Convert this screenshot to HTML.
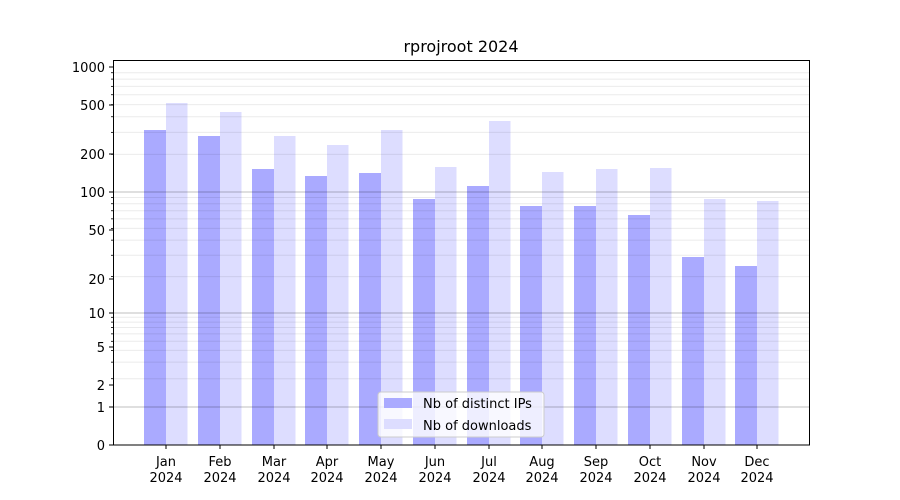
<!DOCTYPE html>
<html><head><meta charset="utf-8"><style>body{margin:0;background:#fff}svg{display:block}text{font-family:"DejaVu Sans","Liberation Sans",sans-serif;font-size:13px;fill:#000}</style></head>
<body>
<svg width="900" height="500" xmlns="http://www.w3.org/2000/svg">
<rect width="900" height="500" fill="#fff"/>
<g id="bars"></g>
<g id="grid"></g>
<rect x="113.5" y="60.5" width="696" height="384.5" fill="none" stroke="#000" stroke-width="1"/>
<g id="ticks"></g>
<text x="461" y="52" text-anchor="middle" style="font-size:16px">rprojroot 2024</text>
<g>
<rect x="378" y="392" width="166" height="45" rx="3" fill="#fff" fill-opacity="0.8" stroke="#ccc"/>
<rect x="384" y="398" width="28" height="10" fill="#aaaaff"/>
<text x="423" y="408">Nb of distinct IPs</text>
<rect x="384" y="419" width="28" height="10" fill="#ddddff"/>
<text x="423" y="430">Nb of downloads</text>
</g>
</svg>
<script>
const ns="http://www.w3.org/2000/svg";
function el(p,t,a,txt){const e=document.createElementNS(ns,t);for(const k in a)e.setAttribute(k,a[k]);if(txt!=null)e.textContent=txt;document.querySelector(p).appendChild(e);return e;}
const dec=[[1,407,313],[10,313,192],[100,192,67]];
function Y(v){if(v<=1)return 445-38*v;for(const [b,a,c] of dec){if(v<=b*10)return a+(c-a)*Math.log10(v/b);}return 67;}
for(const [b] of dec){for(let m=2;m<=9;m++){const y=Y(b*m);el("#grid","line",{x1:114,x2:809,y1:y,y2:y,stroke:"#000","stroke-opacity":0.08,"stroke-width":1});el("#ticks","line",{x1:111,x2:113,y1:y,y2:y,stroke:"#000","stroke-width":0.8});}}
for(const v of [1,10,100]){const y=Y(v);el("#grid","line",{x1:114,x2:809,y1:y,y2:y,stroke:"#000","stroke-opacity":0.25,"stroke-width":1});}
const t1=[130,136,169,176,173,199,186,206,206,215,257,266];
const t2=[103,112,136,145,130,167,121,172,169,168,199,201];
const x0=[144,198,252,305,359,413,467,520,574,628,682,735];
const mon=["Jan","Feb","Mar","Apr","May","Jun","Jul","Aug","Sep","Oct","Nov","Dec"];
x0.forEach((x,i)=>{
el("#bars","rect",{x:x,y:t1[i],width:22,height:445-t1[i],fill:"#aaaaff"});
el("#bars","rect",{x:x+22,y:t2[i],width:21.5,height:445-t2[i],fill:"#ddddff"});
const cx=x+22;
el("#ticks","line",{x1:cx,x2:cx,y1:445,y2:449,stroke:"#000"});
el("#ticks","text",{x:cx,y:466,"text-anchor":"middle"},mon[i]);
el("#ticks","text",{x:cx,y:482,"text-anchor":"middle"},"2024");
});
[[0,445],[1,407],[2,385],[5,347],[10,313],[20,279],[50,230],[100,192],[200,154],[500,105],[1000,67]].forEach(([v,y])=>{
el("#ticks","line",{x1:109,x2:113,y1:y,y2:y,stroke:"#000"});
el("#ticks","text",{x:105,y:y+5,"text-anchor":"end"},String(v));
});
</script>
</body></html>
